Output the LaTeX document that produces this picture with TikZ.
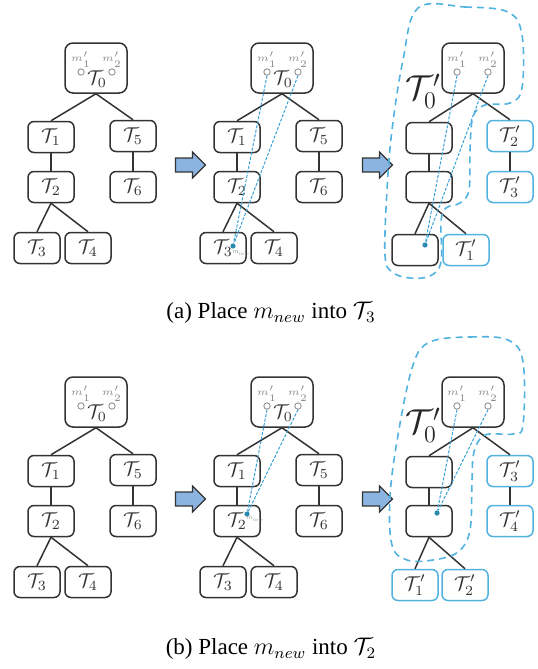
\documentclass[tikz,border=0pt]{standalone}
\usepackage{fontspec}
\setmainfont{Liberation Serif}
\usetikzlibrary{shapes.arrows}
\definecolor{edgec}{HTML}{333333}
\definecolor{lblue}{HTML}{52B2E0}
\definecolor{dblue}{HTML}{3AA0D4}
\definecolor{dotc}{HTML}{2A8AB0}
\definecolor{arrfill}{HTML}{8CB4E0}
\definecolor{mgray}{HTML}{8A8A8A}
\tikzset{
  box/.style={draw=edgec, line width=0.75pt, rounded corners=3pt, minimum width=23pt,
    minimum height=15.5pt, inner sep=0pt, font=\normalsize, text=black!80},
  rootbox/.style={box, minimum width=31pt, minimum height=25pt, rounded corners=4pt},
  nbox/.style={box, draw=lblue},
  link/.style={draw=edgec, line width=0.75pt},
  mlab/.style={font=\fontsize{5}{5}\selectfont, text=mgray, inner sep=0pt},
  mcirc/.style={circle, draw=mgray, line width=0.4pt, minimum size=3.2pt, inner sep=0pt, fill=white},
  trace/.style={draw=dblue, line width=0.5pt, dash pattern=on 1.5pt off 0.8pt},
  mdot/.style={circle, fill=dotc, minimum size=2.6pt, inner sep=0pt},
  tinylab/.style={text=mgray, inner sep=0pt},
  bigarrow/.style={single arrow, draw=edgec, line width=0.6pt, fill=arrfill,
    minimum height=15pt, inner xsep=0pt, inner ysep=3.2pt, single arrow head extend=3pt},
  hull/.style={draw=lblue, line width=0.8pt, dash pattern=on 3.5pt off 2.5pt},
  biglab/.style={font=\fontsize{18}{18}\selectfont, inner sep=0pt, text=black!85},
  caption/.style={font=\fontsize{11.5}{13}\selectfont, inner sep=0pt}
}
\newcommand{\origtree}[3]{%
\begin{scope}[shift={(#2,#3)}]
  \node[rootbox] (#1r) at (96,68) {};
  \node[mlab] (#1m1) at (81,60) {$m'_1$};
  \node[mlab] (#1m2) at (112,60) {$m'_2$};
  \node[mcirc] (#1c1) at (81,72) {};
  \node[mcirc] (#1c2) at (112,72) {};
  \node[inner sep=0pt, text=black!80] (#1t0) at (97,79) {$\mathcal{T}_0$};
  \node[box] (#1a1) at (51,137) {$\mathcal{T}_1$};
  \node[box] (#1a5) at (133,136) {$\mathcal{T}_5$};
  \node[box] (#1a2) at (51,187) {$\mathcal{T}_2$};
  \node[box] (#1a6) at (133,187) {$\mathcal{T}_6$};
  \node[box] (#1a3) at (37,248) {$\mathcal{T}_3$};
  \node[box] (#1a4) at (88,248) {$\mathcal{T}_4$};
  \draw[link] (#1r.south) -- (#1a1.north);
  \draw[link] (#1r.south) -- (#1a5.north);
  \draw[link] (#1a1) -- (#1a2);
  \draw[link] (#1a5) -- (#1a6);
  \draw[link] (#1a2.south) -- (#1a3.north);
  \draw[link] (#1a2.south) -- (#1a4.north);
\end{scope}}
\newcommand{\newroot}[3]{%
\begin{scope}[shift={(#2,#3)}]
  \node[rootbox] (#1r) at (473,68) {};
  \node[mlab] (#1m1) at (457,60) {$m'_1$};
  \node[mlab] (#1m2) at (488,60) {$m'_2$};
  \node[mcirc] (#1c1) at (457,72) {};
  \node[mcirc] (#1c2) at (488,72) {};
  \node[biglab] (#1lab) at (423,91) {$\mathcal{T}'_0$};
\end{scope}}
\begin{document}
\begin{tikzpicture}[x=0.5pt,y=-0.5pt]
\useasboundingbox (0,0) rectangle (537,669);
% ---------- row (a) ----------
\origtree{p}{0}{0}
\origtree{q}{186}{0}
\node[mdot] (qdot) at (233,246) {};
\node[tinylab] (qnew) at (241,253) {\scalebox{0.35}{$m_{new}$}};
\draw[trace] (qc1.south) -- (qdot);
\draw[trace] (qc2.south) -- (qdot);
\node[bigarrow] (ar1) at (187,165) {};
\node[bigarrow] (ar2) at (374,165) {};
\newroot{s}{0}{0}
\node[box] (se1) at (429,138) {};
\node[nbox] (sb2) at (510,136) {$\mathcal{T}'_2$};
\node[box] (se2) at (429,187) {};
\node[nbox] (sb3) at (510,187) {$\mathcal{T}'_3$};
\node[box] (se3) at (415,250) {};
\node[nbox] (sb1) at (466,250) {$\mathcal{T}'_1$};
\draw[link] (sr.south) -- (se1.north);
\draw[link] (sr.south) -- (sb2.north);
\draw[link] (se1) -- (se2);
\draw[link] (sb2) -- (sb3);
\draw[link] (se2.south) -- (se3.north);
\draw[link] (se2.south) -- (sb1.north);
\node[mdot] (sdot) at (425,245) {};
\draw[trace] (sc1.south) -- (sdot);
\draw[trace] (sc2.south) -- (sdot);
\draw[hull] plot[smooth cycle, tension=0.6] coordinates {(418,8) (465,7) (508,12) (522,35) (522,88) (510,103) (485,105) (473,117) (470,150) (469,190) (460,203) (446,208) (441,222) (441,262) (430,276) (410,278) (392,272) (385,255) (387,190) (392,130) (403,60)};
\node[caption] (capa) at (271,313) {(a) Place $m_{new}$ into $\mathcal{T}_3$};
% ---------- row (b) ----------
\origtree{u}{0}{334}
\origtree{v}{186}{334}
\node[mdot] (vdot) at (247,514) {};
\node[tinylab] (vnew) at (255,519) {\scalebox{0.35}{$m_{new}$}};
\draw[trace] (vc1.south) -- (vdot);
\draw[trace] (vc2.south) -- (vdot);
\node[bigarrow] (ar3) at (187,499) {};
\node[bigarrow] (ar4) at (374,499) {};
\newroot{w}{0}{334}
\node[box] (we1) at (429,472) {};
\node[nbox] (wb3) at (510,471) {$\mathcal{T}'_3$};
\node[box] (we2) at (429,521) {};
\node[nbox] (wb4) at (510,521) {$\mathcal{T}'_4$};
\node[nbox] (wb1) at (415,585) {$\mathcal{T}'_1$};
\node[nbox] (wb2) at (465,585) {$\mathcal{T}'_2$};
\draw[link] (wr.south) -- (we1.north);
\draw[link] (wr.south) -- (wb3.north);
\draw[link] (we1) -- (we2);
\draw[link] (wb3) -- (wb4);
\draw[link] (we2.south) -- (wb1.north);
\draw[link] (we2.south) -- (wb2.north);
\node[mdot] (wdot) at (437,513) {};
\draw[trace] (wc1.south) -- (wdot);
\draw[trace] (wc2.south) -- (wdot);
\draw[hull] plot[smooth cycle, tension=0.6] coordinates {(430,342) (470,337) (508,340) (523,362) (523,425) (513,434) (485,435) (474,452) (472,480) (470,530) (458,552) (433,560) (407,560) (392,545) (390,497) (398,435) (413,365)};
\node[caption] (capb) at (271,649) {(b) Place $m_{new}$ into $\mathcal{T}_2$};
\end{tikzpicture}
\end{document}
